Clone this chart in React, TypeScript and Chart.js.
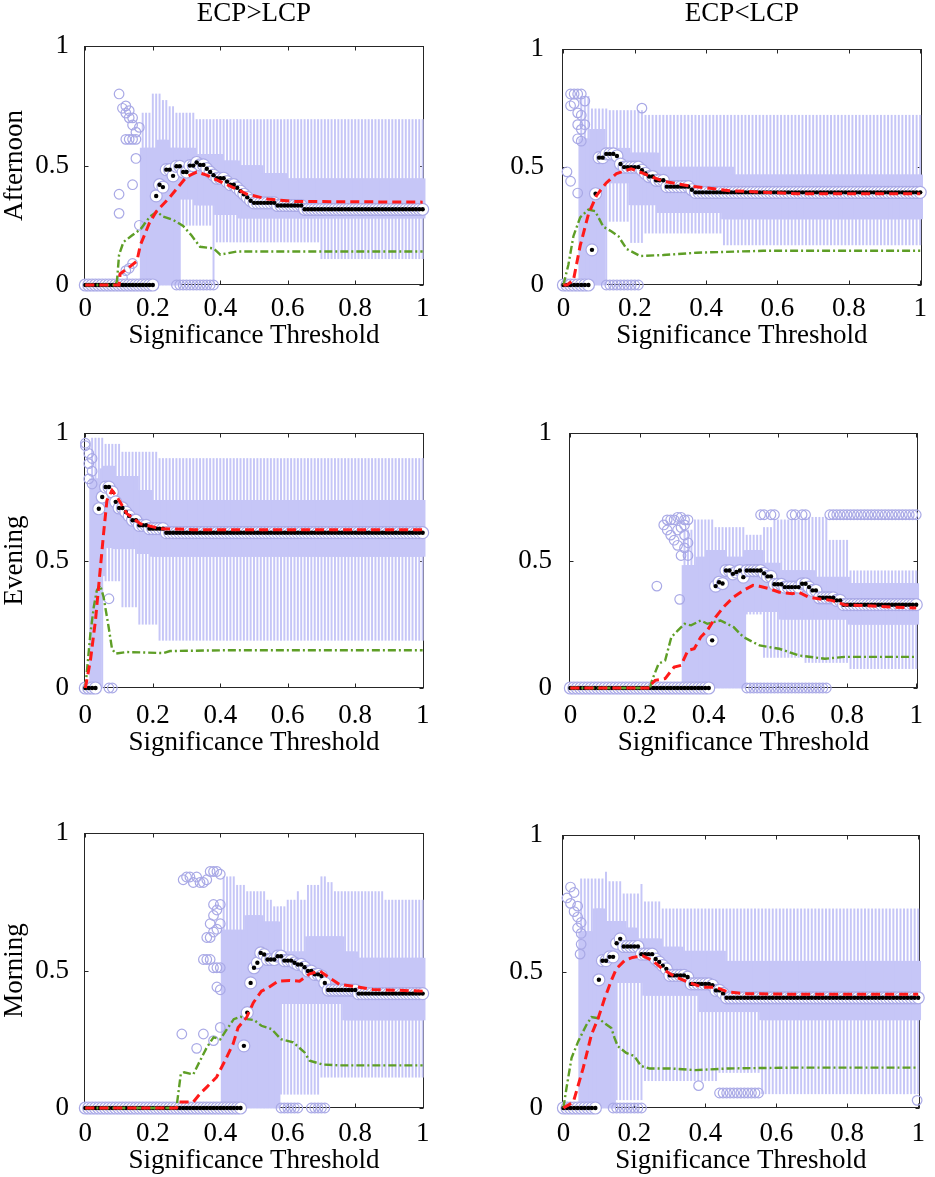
import { useEffect, useRef } from 'react';
import Chart from 'chart.js/auto';

type Range = [number, number, number, number]; // x from, x to, low, high
type Level = [number, number, number]; // x from, x to, value
type Pt = [number, number];

const X_TICKS = [0, 0.2, 0.4, 0.6, 0.8, 1];
const Y_TICKS = [0, 0.5, 1];
const COLUMNS = ['ECP>LCP', 'ECP<LCP'];
const ROWS = ['Afternoon', 'Evening', 'Morning'];
const X_TITLE = 'Significance Threshold';

// ---- Afternoon, ECP>LCP
const AFT_GT_BOX: Range[] = [
    [0.17, 0.21, 0, 0.573], [0.22, 0.24, 0, 0.607], [0.25, 0.27, 0, 0.573], [0.28, 0.32, 0.36, 0.573],
    [0.33, 0.38, 0.335, 0.547], [0.39, 0.4, 0.295, 0.547], [0.41, 0.45, 0.295, 0.52], [0.46, 0.52, 0.28, 0.5],
    [0.53, 0.59, 0.28, 0.467], [0.6, 1, 0.28, 0.445],
];
const AFT_GT_WHISK: Range[] = [
    [0.17, 0.19, 0, 0.72], [0.2, 0.22, 0, 0.8], [0.23, 0.24, 0, 0.773], [0.25, 0.26, 0, 0.747],
    [0.27, 0.28, 0, 0.72], [0.29, 0.32, 0.25, 0.72], [0.33, 0.37, 0.25, 0.693], [0.38, 0.38, 0, 0.693],
    [0.39, 0.69, 0.18, 0.693], [0.7, 1, 0.11, 0.693],
];
const AFT_GT_MED: Level[] = [
    [0, 0.2, 0], [0.21, 0.21, 0.373], [0.22, 0.22, 0.42], [0.23, 0.23, 0.41], [0.24, 0.25, 0.483],
    [0.26, 0.26, 0.457], [0.27, 0.28, 0.497], [0.29, 0.3, 0.473], [0.31, 0.32, 0.5], [0.33, 0.33, 0.513],
    [0.34, 0.35, 0.503], [0.36, 0.36, 0.487], [0.37, 0.37, 0.473], [0.38, 0.38, 0.46], [0.39, 0.41, 0.447],
    [0.42, 0.42, 0.433], [0.43, 0.44, 0.42], [0.45, 0.45, 0.407], [0.46, 0.46, 0.393], [0.47, 0.47, 0.38],
    [0.48, 0.48, 0.367], [0.49, 0.49, 0.353], [0.5, 0.56, 0.344], [0.57, 0.64, 0.333], [0.65, 1, 0.317],
];
const AFT_GT_MEAN: Pt[] = [
    [0, 0], [0.1, 0], [0.103, 0.047], [0.123, 0.067], [0.153, 0.1], [0.163, 0.167], [0.19, 0.26],
    [0.21, 0.307], [0.25, 0.367], [0.3, 0.453], [0.33, 0.473], [0.36, 0.46], [0.4, 0.433], [0.44, 0.407],
    [0.48, 0.38], [0.54, 0.36], [0.62, 0.35], [1, 0.347],
];
const AFT_GT_SPREAD: Pt[] = [
    [0, 0], [0.09, 0], [0.094, 0.02], [0.1, 0.127], [0.113, 0.18], [0.138, 0.207], [0.163, 0.233],
    [0.192, 0.287], [0.212, 0.307], [0.23, 0.287], [0.26, 0.273], [0.29, 0.247], [0.315, 0.207],
    [0.34, 0.16], [0.38, 0.153], [0.4, 0.127], [0.448, 0.14], [0.517, 0.14], [1, 0.14],
];
const AFT_GT_OUT: Pt[] = [
    [0.1, 0.8], [0.1, 0.38], [0.1, 0.3], [0.11, 0.74], [0.12, 0.75], [0.12, 0.72], [0.13, 0.7], [0.13, 0.73],
    [0.14, 0.7], [0.12, 0.61], [0.13, 0.61], [0.14, 0.61], [0.15, 0.61], [0.14, 0.67], [0.15, 0.64],
    [0.16, 0.66], [0.15, 0.53], [0.14, 0.42], [0.16, 0.25], [0.11, 0.03], [0.12, 0.06], [0.13, 0.07], [0.14, 0.09],
];
const AFT_GT_OUT_ROWS: Level[] = [[0.27, 0.38, 0]];

// ---- Afternoon, ECP<LCP
const AFT_LT_BOX: Range[] = [
    [0.05, 0.07, 0, 0.62], [0.08, 0.11, 0, 0.66], [0.12, 0.18, 0.433, 0.58], [0.19, 0.26, 0.34, 0.56],
    [0.27, 0.44, 0.307, 0.5], [0.45, 0.47, 0.28, 0.5], [0.48, 1, 0.28, 0.467],
];
const AFT_LT_WHISK: Range[] = [
    [0.05, 0.07, 0, 0.8], [0.08, 0.12, 0, 0.747], [0.13, 0.18, 0.27, 0.74], [0.19, 0.22, 0.18, 0.74],
    [0.23, 0.44, 0.22, 0.72], [0.45, 1, 0.17, 0.72],
];
const AFT_LT_MED: Level[] = [
    [0, 0.07, 0], [0.08, 0.08, 0.149], [0.09, 0.09, 0.387], [0.1, 0.11, 0.54], [0.12, 0.14, 0.556],
    [0.15, 0.15, 0.547], [0.16, 0.16, 0.513], [0.17, 0.21, 0.5], [0.22, 0.22, 0.487], [0.23, 0.23, 0.473],
    [0.24, 0.25, 0.46], [0.26, 0.28, 0.444], [0.29, 0.35, 0.417], [0.36, 0.36, 0.404], [0.37, 1, 0.393],
];
const AFT_LT_MEAN: Pt[] = [
    [0, 0], [0.01, 0], [0.028, 0.02], [0.047, 0.167], [0.07, 0.3], [0.093, 0.38], [0.12, 0.433],
    [0.149, 0.473], [0.19, 0.493], [0.224, 0.473], [0.28, 0.44], [0.354, 0.42], [0.466, 0.4],
    [0.653, 0.387], [1, 0.387],
];
const AFT_LT_SPREAD: Pt[] = [
    [0, 0], [0.014, 0.087], [0.028, 0.207], [0.047, 0.287], [0.07, 0.32], [0.089, 0.313], [0.112, 0.247],
    [0.135, 0.227], [0.154, 0.207], [0.177, 0.153], [0.215, 0.123], [0.28, 0.127], [0.373, 0.137],
    [0.56, 0.145], [1, 0.145],
];
const AFT_LT_OUT: Pt[] = [
    [0.02, 0.81], [0.03, 0.81], [0.04, 0.81], [0.05, 0.81], [0.02, 0.76], [0.03, 0.77], [0.04, 0.73],
    [0.05, 0.72], [0.04, 0.68], [0.05, 0.66], [0.05, 0.61], [0.04, 0.62], [0.06, 0.78], [0.06, 0.68],
    [0.01, 0.48], [0.02, 0.44], [0.04, 0.39], [0.22, 0.75],
];
const AFT_LT_OUT_ROWS: Level[] = [[0.12, 0.21, 0]];

// ---- Evening, ECP>LCP
const EVE_GT_BOX: Range[] = [
    [0.02, 0.04, 0, 0.82], [0.05, 0.05, 0.44, 0.86], [0.06, 0.08, 0.55, 0.87], [0.09, 0.15, 0.546, 0.83],
    [0.16, 0.19, 0.527, 0.775], [0.2, 1, 0.516, 0.736],
];
const EVE_GT_WHISK: Range[] = [
    [0.02, 0.05, 0, 0.98], [0.06, 0.1, 0.42, 0.956], [0.11, 0.15, 0.318, 0.925], [0.16, 0.21, 0.25, 0.925],
    [0.22, 1, 0.187, 0.9],
];
const EVE_GT_MED: Level[] = [
    [0, 0.03, 0], [0.04, 0.04, 0.703], [0.05, 0.05, 0.749], [0.06, 0.07, 0.788], [0.08, 0.08, 0.769],
    [0.09, 0.09, 0.73], [0.1, 0.11, 0.706], [0.12, 0.12, 0.69], [0.13, 0.13, 0.675], [0.14, 0.15, 0.658],
    [0.16, 0.18, 0.638], [0.19, 0.23, 0.625], [0.24, 1, 0.609],
];
const EVE_GT_MEAN: Pt[] = [
    [0, 0], [0.015, 0.108], [0.03, 0.265], [0.042, 0.435], [0.054, 0.605], [0.064, 0.736], [0.079, 0.775],
    [0.094, 0.749], [0.123, 0.684], [0.163, 0.644], [0.222, 0.625], [0.32, 0.621], [1, 0.621],
];
const EVE_GT_SPREAD: Pt[] = [
    [0, 0], [0.015, 0.213], [0.025, 0.318], [0.034, 0.383], [0.044, 0.403], [0.054, 0.357], [0.069, 0.239],
    [0.079, 0.154], [0.089, 0.135], [0.123, 0.141], [0.182, 0.139], [0.232, 0.137], [0.251, 0.145],
    [0.419, 0.148], [1, 0.148],
];
const EVE_GT_OUT: Pt[] = [
    [0, 0.96], [0, 0.95], [0.01, 0.92], [0.02, 0.9], [0.01, 0.88], [0.02, 0.85], [0.01, 0.82], [0.02, 0.8],
    [0.07, 0.35], [0.07, 0], [0.08, 0],
];
const EVE_GT_OUT_ROWS: Level[] = [];

// ---- Evening, ECP<LCP
const EVE_LT_BOX: Range[] = [
    [0.33, 0.36, 0, 0.481], [0.37, 0.39, 0, 0.514], [0.4, 0.44, 0, 0.54], [0.45, 0.5, 0, 0.514],
    [0.51, 0.55, 0.3, 0.54], [0.56, 0.6, 0.3, 0.49], [0.61, 0.7, 0.27, 0.461], [0.71, 0.8, 0.27, 0.435],
    [0.81, 1, 0.25, 0.41],
];
const EVE_LT_WHISK: Range[] = [
    [0.33, 0.35, 0, 0.62], [0.36, 0.41, 0, 0.66], [0.42, 0.5, 0, 0.63], [0.51, 0.55, 0.29, 0.6],
    [0.56, 0.58, 0.12, 0.63], [0.59, 0.63, 0.12, 0.66], [0.64, 0.67, 0.12, 0.66], [0.68, 0.74, 0.1, 0.67],
    [0.75, 0.8, 0.1, 0.58], [0.81, 1, 0.076, 0.46],
];
const EVE_LT_MED: Level[] = [
    [0, 0.4, 0], [0.41, 0.41, 0.187], [0.42, 0.42, 0.4], [0.43, 0.43, 0.415], [0.44, 0.44, 0.41],
    [0.45, 0.46, 0.461], [0.47, 0.47, 0.448], [0.48, 0.48, 0.455], [0.49, 0.49, 0.461], [0.5, 0.5, 0.435],
    [0.51, 0.55, 0.461], [0.56, 0.56, 0.45], [0.57, 0.58, 0.438], [0.59, 0.61, 0.407], [0.62, 0.66, 0.396],
    [0.67, 0.68, 0.409], [0.69, 0.69, 0.396], [0.7, 0.71, 0.383], [0.72, 0.76, 0.354], [0.77, 0.78, 0.344],
    [0.79, 1, 0.327],
];
const EVE_LT_MEAN: Pt[] = [
    [0, 0], [0.23, 0], [0.231, 0.01], [0.245, 0.03], [0.274, 0.037], [0.3, 0.082], [0.32, 0.089],
    [0.34, 0.148], [0.358, 0.154], [0.377, 0.2], [0.396, 0.226], [0.42, 0.278], [0.443, 0.318],
    [0.472, 0.357], [0.5, 0.383], [0.528, 0.403], [0.547, 0.399], [0.575, 0.39], [0.604, 0.376],
    [0.642, 0.37], [0.66, 0.376], [0.689, 0.357], [0.717, 0.35], [0.755, 0.344], [0.792, 0.327],
    [0.925, 0.318], [1, 0.314],
];
const EVE_LT_SPREAD: Pt[] = [
    [0, 0], [0.23, 0], [0.236, 0.03], [0.255, 0.095], [0.274, 0.108], [0.292, 0.2], [0.311, 0.226],
    [0.33, 0.252], [0.349, 0.246], [0.377, 0.265], [0.396, 0.252], [0.434, 0.265], [0.472, 0.239],
    [0.5, 0.2], [0.547, 0.167], [0.604, 0.154], [0.66, 0.128], [0.736, 0.115], [0.792, 0.122], [1, 0.122],
];
const EVE_LT_OUT: Pt[] = [
    [0.25, 0.4], [0.316, 0.348], [0.27, 0.64], [0.28, 0.66], [0.29, 0.66], [0.3, 0.66], [0.31, 0.67],
    [0.32, 0.67], [0.33, 0.66], [0.34, 0.66], [0.28, 0.62], [0.29, 0.6], [0.3, 0.58], [0.31, 0.62],
    [0.32, 0.63], [0.33, 0.6], [0.34, 0.57], [0.33, 0.55], [0.34, 0.52], [0.32, 0.52], [0.31, 0.56],
    [0.33, 0.64], [0.55, 0.68], [0.56, 0.68], [0.58, 0.68], [0.59, 0.68], [0.64, 0.68], [0.65, 0.68],
    [0.67, 0.68], [0.68, 0.68],
];
const EVE_LT_OUT_ROWS: Level[] = [[0.75, 1, 0.68], [0.51, 0.74, 0]];

// ---- Morning, ECP>LCP
const MOR_GT_BOX: Range[] = [
    [0.41, 0.47, 0, 0.647], [0.48, 0.52, 0, 0.7], [0.53, 0.57, 0, 0.677], [0.58, 0.65, 0.38, 0.568],
    [0.66, 0.76, 0.38, 0.623], [0.77, 0.8, 0.32, 0.568], [0.81, 1, 0.32, 0.545],
];
const MOR_GT_WHISK: Range[] = [
    [0.41, 0.44, 0, 0.841], [0.45, 0.47, 0, 0.81], [0.48, 0.53, 0, 0.787], [0.54, 0.55, 0, 0.756],
    [0.56, 0.57, 0, 0.732], [0.58, 0.59, 0.05, 0.732], [0.6, 0.62, 0.05, 0.756], [0.63, 0.63, 0.05, 0.787],
    [0.64, 0.65, 0.05, 0.756], [0.66, 0.69, 0.05, 0.81], [0.7, 0.71, 0.112, 0.841], [0.72, 0.73, 0.112, 0.82],
    [0.74, 0.88, 0.112, 0.787], [0.89, 1, 0.112, 0.756],
];
const MOR_GT_MED: Level[] = [
    [0, 0.46, 0], [0.47, 0.47, 0.226], [0.48, 0.48, 0.347], [0.49, 0.49, 0.455], [0.5, 0.5, 0.51],
    [0.51, 0.51, 0.528], [0.52, 0.52, 0.564], [0.53, 0.53, 0.558], [0.54, 0.56, 0.54], [0.57, 0.58, 0.552],
    [0.59, 0.61, 0.536], [0.62, 0.62, 0.528], [0.63, 0.64, 0.522], [0.65, 0.65, 0.512], [0.66, 0.67, 0.498],
    [0.68, 0.69, 0.486], [0.7, 0.7, 0.48], [0.71, 0.71, 0.455], [0.72, 0.8, 0.429], [0.81, 1, 0.416],
];
const MOR_GT_MEAN: Pt[] = [
    [0, 0], [0.27, 0], [0.279, 0.022], [0.32, 0.022], [0.34, 0.052], [0.36, 0.076], [0.389, 0.112],
    [0.414, 0.172], [0.438, 0.233], [0.453, 0.293], [0.478, 0.329], [0.498, 0.383], [0.522, 0.425],
    [0.542, 0.437], [0.571, 0.461], [0.606, 0.464], [0.635, 0.461], [0.665, 0.488], [0.695, 0.498],
    [0.724, 0.473], [0.754, 0.449], [0.793, 0.443], [0.852, 0.431], [1, 0.425],
];
const MOR_GT_SPREAD: Pt[] = [
    [0, 0], [0.27, 0], [0.283, 0.124], [0.293, 0.13], [0.32, 0.122], [0.34, 0.172], [0.36, 0.22],
    [0.38, 0.257], [0.4, 0.25], [0.42, 0.287], [0.44, 0.323], [0.46, 0.332], [0.48, 0.323], [0.5, 0.32],
    [0.522, 0.299], [0.552, 0.287], [0.58, 0.25], [0.616, 0.239], [0.65, 0.202], [0.665, 0.172],
    [0.704, 0.158], [0.754, 0.155], [1, 0.155],
];
const MOR_GT_OUT: Pt[] = [
    [0.286, 0.269], [0.33, 0.217], [0.35, 0.269], [0.38, 0.245], [0.4, 0.293], [0.4, 0.43], [0.39, 0.44],
    [0.35, 0.54], [0.36, 0.54], [0.37, 0.54], [0.38, 0.51], [0.39, 0.51], [0.4, 0.51], [0.36, 0.62],
    [0.37, 0.62], [0.38, 0.64], [0.39, 0.65], [0.4, 0.67], [0.37, 0.67], [0.38, 0.7], [0.39, 0.72],
    [0.4, 0.74], [0.38, 0.74], [0.29, 0.83], [0.3, 0.84], [0.31, 0.84], [0.32, 0.82], [0.33, 0.84],
    [0.34, 0.82], [0.35, 0.82], [0.36, 0.83], [0.37, 0.86], [0.38, 0.86], [0.39, 0.86], [0.4, 0.85],
];
const MOR_GT_OUT_ROWS: Level[] = [[0.58, 0.63, 0], [0.67, 0.71, 0]];

// ---- Morning, ECP<LCP
const MOR_LT_BOX: Range[] = [
    [0.05, 0.08, 0, 0.647], [0.09, 0.11, 0, 0.73], [0.12, 0.14, 0, 0.684], [0.15, 0.17, 0.46, 0.684],
    [0.18, 0.2, 0.46, 0.66], [0.21, 0.22, 0.46, 0.62], [0.23, 0.27, 0.413, 0.62], [0.28, 0.33, 0.413, 0.59],
    [0.34, 0.38, 0.413, 0.575], [0.39, 0.45, 0.353, 0.575], [0.46, 0.55, 0.353, 0.538], [0.56, 1, 0.323, 0.538],
];
const MOR_LT_WHISK: Range[] = [
    [0.05, 0.11, 0, 0.84], [0.12, 0.12, 0, 0.865], [0.13, 0.14, 0, 0.83], [0.15, 0.16, 0.03, 0.83],
    [0.17, 0.21, 0.03, 0.785], [0.22, 0.22, 0.03, 0.82], [0.23, 0.27, 0.1, 0.756], [0.28, 0.43, 0.1, 0.73],
    [0.44, 0.55, 0.13, 0.73], [0.56, 1, 0.052, 0.73],
];
const MOR_LT_MED: Level[] = [
    [0, 0.09, 0], [0.1, 0.1, 0.47], [0.11, 0.12, 0.54], [0.13, 0.14, 0.554], [0.15, 0.15, 0.604],
    [0.16, 0.16, 0.62], [0.17, 0.21, 0.592], [0.22, 0.25, 0.564], [0.26, 0.26, 0.546], [0.27, 0.27, 0.535],
    [0.28, 0.28, 0.522], [0.29, 0.29, 0.51], [0.3, 0.34, 0.486], [0.35, 0.35, 0.48], [0.36, 0.41, 0.455],
    [0.42, 0.42, 0.45], [0.43, 0.44, 0.431], [0.45, 0.45, 0.42], [0.46, 1, 0.404],
];
const MOR_LT_MEAN: Pt[] = [
    [0, 0], [0.028, 0.022], [0.056, 0.148], [0.079, 0.269], [0.098, 0.329], [0.116, 0.401], [0.135, 0.467],
    [0.149, 0.51], [0.172, 0.54], [0.195, 0.552], [0.223, 0.558], [0.251, 0.54], [0.279, 0.51],
    [0.316, 0.48], [0.353, 0.461], [0.391, 0.443], [0.428, 0.443], [0.465, 0.425], [0.512, 0.419],
    [0.651, 0.417], [1, 0.417],
];
const MOR_LT_SPREAD: Pt[] = [
    [0, 0], [0.009, 0.076], [0.023, 0.184], [0.042, 0.245], [0.065, 0.305], [0.079, 0.333], [0.098, 0.329],
    [0.116, 0.311], [0.135, 0.293], [0.144, 0.257], [0.153, 0.227], [0.177, 0.202], [0.2, 0.19],
    [0.219, 0.154], [0.242, 0.145], [0.3, 0.145], [0.372, 0.139], [0.465, 0.145], [0.651, 0.148], [1, 0.148],
];
const MOR_LT_OUT: Pt[] = [
    [0.01, 0.77], [0.02, 0.81], [0.03, 0.79], [0.02, 0.75], [0.03, 0.72], [0.04, 0.74], [0.04, 0.7],
    [0.05, 0.68], [0.04, 0.66], [0.05, 0.64], [0.05, 0.6], [0.047, 0.564], [0.381, 0.082], [0.997, 0.028],
];
const MOR_LT_OUT_ROWS: Level[] = [[0.14, 0.22, 0], [0.44, 0.55, 0.055]];

const BOX_COLOR = '#C6C6F7';
const EDGE_COLOR = '#A9A9E6';
const RED = '#FF1A1A';
const GREEN = '#5E9E26';
const AXIS_COLOR = '#262626';
const FONT_FAMILY = '"Liberation Serif", "Times New Roman", serif';
const FONT_SIZE = 27;
const X_MIN = -0.004;
const X_MAX = 1.004;

interface PanelSpec {
    box: Range[];
    whisk: Range[];
    med: Level[];
    mean: Pt[];
    spread: Pt[];
    out: Pt[];
    outRows: Level[];
    left: number;
    top: number;
    width: number;
    height: number;
    plot: [number, number, number, number];
    yTitle?: string;
    tickPad: number;
    yPad: number;
}

const PANELS: PanelSpec[] = [
    {
        box: AFT_GT_BOX, whisk: AFT_GT_WHISK, med: AFT_GT_MED, mean: AFT_GT_MEAN, spread: AFT_GT_SPREAD,
        out: AFT_GT_OUT, outRows: AFT_GT_OUT_ROWS,
        left: 0, top: 15, width: 445, height: 336, plot: [84, 35, 424, 285], yTitle: ROWS[0], tickPad: 8, yPad: 15,
    },
    {
        box: AFT_LT_BOX, whisk: AFT_LT_WHISK, med: AFT_LT_MED, mean: AFT_LT_MEAN, spread: AFT_LT_SPREAD,
        out: AFT_LT_OUT, outRows: AFT_LT_OUT_ROWS,
        left: 490, top: 15, width: 445, height: 336, plot: [562, 35, 922, 285], tickPad: 8, yPad: 18,
    },
    {
        box: EVE_GT_BOX, whisk: EVE_GT_WHISK, med: EVE_GT_MED, mean: EVE_GT_MEAN, spread: EVE_GT_SPREAD,
        out: EVE_GT_OUT, outRows: EVE_GT_OUT_ROWS,
        left: 0, top: 400, width: 445, height: 358, plot: [84, 433, 424, 688], yTitle: ROWS[1], tickPad: 12, yPad: 15,
    },
    {
        box: EVE_LT_BOX, whisk: EVE_LT_WHISK, med: EVE_LT_MED, mean: EVE_LT_MEAN, spread: EVE_LT_SPREAD,
        out: EVE_LT_OUT, outRows: EVE_LT_OUT_ROWS,
        left: 490, top: 400, width: 445, height: 358, plot: [569, 433, 928, 688], tickPad: 12, yPad: 17,
    },
    {
        box: MOR_GT_BOX, whisk: MOR_GT_WHISK, med: MOR_GT_MED, mean: MOR_GT_MEAN, spread: MOR_GT_SPREAD,
        out: MOR_GT_OUT, outRows: MOR_GT_OUT_ROWS,
        left: 0, top: 800, width: 445, height: 376, plot: [84, 833, 424, 1108], yTitle: ROWS[2], tickPad: 10, yPad: 15,
    },
    {
        box: MOR_LT_BOX, whisk: MOR_LT_WHISK, med: MOR_LT_MED, mean: MOR_LT_MEAN, spread: MOR_LT_SPREAD,
        out: MOR_LT_OUT, outRows: MOR_LT_OUT_ROWS,
        left: 490, top: 800, width: 445, height: 376, plot: [562, 833, 923, 1108], tickPad: 10, yPad: 19,
    },
];

// expand a run "from x0 to x1" into the 0.01-spaced thresholds it covers
function thresholds(a: number, b: number) {
    const n = Math.round((b - a) * 100);
    const xs: number[] = [];
    for (let i = 0; i <= n; i++) xs.push(Math.round(a * 100 + i) / 100);
    return xs;
}
const toBars = (segs: Range[]) =>
    segs.flatMap(([a, b, lo, hi]) => thresholds(a, b).map((x) => ({ x, y: [lo, hi] })));
const toLevels = (segs: Level[]) =>
    segs.flatMap(([a, b, v]) => thresholds(a, b).map((x) => ({ x, y: v })));
const toPoints = (list: Pt[]) => list.map(([x, y]) => ({ x, y }));

const framePlugin = {
    id: 'frame',
    beforeDatasetsDraw(chart: any) {
        const { ctx, chartArea: a, scales } = chart;
        const L = Math.round(a.left) + 0.5;
        const R = Math.round(a.right) - 0.5;
        const T = Math.round(a.top) + 0.5;
        const B = Math.round(a.bottom) - 0.5;
        ctx.save();
        ctx.strokeStyle = AXIS_COLOR;
        ctx.lineWidth = 1;
        ctx.strokeRect(L, T, R - L, B - T);
        ctx.beginPath();
        X_TICKS.forEach((v) => {
            const px = Math.round(scales.x.getPixelForValue(v)) + 0.5;
            ctx.moveTo(px, B);
            ctx.lineTo(px, B - 4);
            ctx.moveTo(px, T);
            ctx.lineTo(px, T + 4);
        });
        Y_TICKS.forEach((v) => {
            const py = Math.round(scales.y.getPixelForValue(v)) + 0.5;
            ctx.moveTo(L, py);
            ctx.lineTo(L + 4, py);
            ctx.moveTo(R, py);
            ctx.lineTo(R - 4, py);
        });
        ctx.stroke();
        ctx.restore();
    },
};

function Panel({ spec }: { spec: PanelSpec }) {
    const chartRef = useRef<HTMLCanvasElement>(null);

    useEffect(() => {
        if (!chartRef.current) return;
        const [pl, pt, pr, pb] = spec.plot;
        const font = { family: FONT_FAMILY, size: FONT_SIZE };
        const titleFont = { family: FONT_FAMILY, size: FONT_SIZE, lineHeight: 1.1 };
        const medians = toLevels(spec.med);

        const chart = new Chart(chartRef.current, {
            type: 'scatter',
            data: {
                datasets: [
                    {
                        type: 'bar',
                        data: toBars(spec.whisk) as any,
                        backgroundColor: BOX_COLOR,
                        barThickness: 1.3,
                        grouped: false,
                        borderWidth: 0,
                        clip: false as any,
                        order: 7,
                    },
                    {
                        type: 'bar',
                        data: toBars(spec.box) as any,
                        backgroundColor: BOX_COLOR,
                        barThickness: 5,
                        grouped: false,
                        borderWidth: 0,
                        clip: false as any,
                        order: 6,
                    },
                    {
                        type: 'scatter',
                        data: [...toPoints(spec.out), ...toLevels(spec.outRows)],
                        pointRadius: 4.8,
                        backgroundColor: 'rgba(255,255,255,0)',
                        borderColor: EDGE_COLOR,
                        pointBorderWidth: 1.2,
                        clip: false as any,
                        order: 5,
                    },
                    {
                        type: 'scatter',
                        data: medians,
                        pointRadius: 6,
                        backgroundColor: '#ffffff',
                        borderColor: EDGE_COLOR,
                        pointBorderWidth: 1.2,
                        clip: false as any,
                        order: 4,
                    },
                    {
                        type: 'scatter',
                        data: medians,
                        pointRadius: 2.2,
                        backgroundColor: '#000000',
                        borderColor: '#000000',
                        pointBorderWidth: 0,
                        clip: false as any,
                        order: 3,
                    },
                    {
                        type: 'line',
                        data: toPoints(spec.spread),
                        borderColor: GREEN,
                        borderWidth: 2.4,
                        borderDash: [8, 3, 2, 3],
                        pointRadius: 0,
                        fill: false,
                        tension: 0,
                        clip: false as any,
                        order: 2,
                    },
                    {
                        type: 'line',
                        data: toPoints(spec.mean),
                        borderColor: RED,
                        borderWidth: 3,
                        borderDash: [9, 5],
                        pointRadius: 0,
                        fill: false,
                        tension: 0,
                        clip: false as any,
                        order: 1,
                    },
                ],
            },
            options: {
                animation: false,
                responsive: false,
                layout: {
                    padding: { left: 0, top: pt - spec.top, right: spec.left + spec.width - pr, bottom: 0 },
                },
                plugins: {
                    legend: { display: false },
                    tooltip: { enabled: false },
                },
                scales: {
                    x: {
                        type: 'linear',
                        min: X_MIN,
                        max: X_MAX,
                        offset: false,
                        afterBuildTicks: (scale: any) => {
                            scale.ticks = X_TICKS.map((value) => ({ value }));
                        },
                        afterFit: (scale: any) => {
                            scale.height = spec.top + spec.height - pb;
                        },
                        grid: { display: false, drawTicks: false },
                        border: { display: false },
                        ticks: {
                            padding: spec.tickPad,
                            color: '#000',
                            font,
                            maxRotation: 0,
                            autoSkip: false,
                            callback: (v: any) => String(v),
                        },
                        title: { display: true, text: X_TITLE, color: '#000', font: titleFont, padding: 0 },
                    },
                    y: {
                        type: 'linear',
                        min: 0,
                        max: 1,
                        afterBuildTicks: (scale: any) => {
                            scale.ticks = Y_TICKS.map((value) => ({ value }));
                        },
                        afterFit: (scale: any) => {
                            scale.width = pl - spec.left;
                        },
                        grid: { display: false, drawTicks: false },
                        border: { display: false },
                        ticks: {
                            padding: spec.yPad,
                            color: '#000',
                            font,
                            callback: (v: any) => String(v),
                        },
                        title: {
                            display: !!spec.yTitle,
                            text: spec.yTitle || '',
                            color: '#000',
                            font: titleFont,
                            padding: 0,
                        },
                    },
                },
            },
            plugins: [framePlugin],
        });

        return () => {
            chart.destroy();
        };
    }, [spec]);

    return (
        <canvas
            ref={chartRef}
            width={spec.width}
            height={spec.height}
            style={{ position: 'absolute', left: spec.left, top: spec.top, width: spec.width, height: spec.height }}
        />
    );
}

export default function App() {
    const headStyle = (left: number, width: number): React.CSSProperties => ({
        position: 'absolute',
        left,
        width,
        top: 0,
        textAlign: 'center',
        fontFamily: FONT_FAMILY,
        fontSize: FONT_SIZE,
        lineHeight: '24px',
        color: '#000',
    });

    return (
        <div style={{ position: 'absolute', left: 0, top: 0, width: 935, height: 1177, background: '#fff', overflow: 'hidden' }}>
            {PANELS.map((p, i) => (
                <Panel key={i} spec={p} />
            ))}
            <div style={headStyle(84, 340)}>{COLUMNS[0]}</div>
            <div style={headStyle(562, 360)}>{COLUMNS[1]}</div>
        </div>
    );
}
